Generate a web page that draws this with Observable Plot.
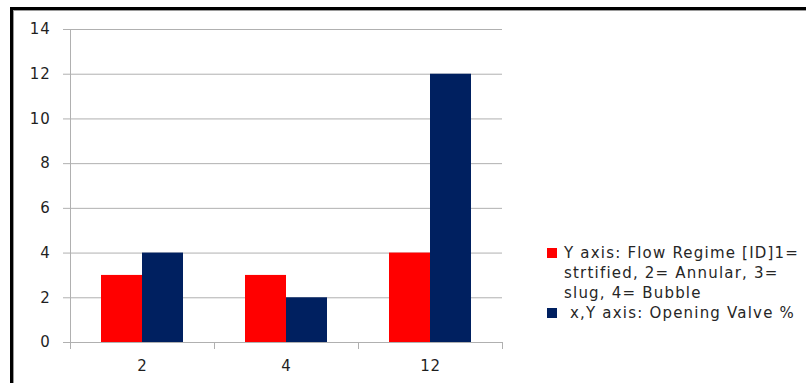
<!DOCTYPE html>
<html>
<head>
<meta charset="utf-8">
<script src="https://cdn.jsdelivr.net/npm/d3@7"></script>
<script src="https://cdn.jsdelivr.net/npm/@observablehq/plot@0.6"></script>
<style>
  body { margin: 0; background: #fff; font-family: "DejaVu Sans", sans-serif; }
  #wrap { position: relative; width: 806px; height: 383px; overflow: hidden; }
  #box {
    position: absolute; left: 10px; top: 7px; width: 900px; height: 500px;
    border-top: 3px solid #000; border-left: 3px solid #000;
    box-shadow: inset 1px 1px 0 #9a9a9a;
  }
  #chart { position: absolute; left: 0; top: 0; }
  #legend { position: absolute; left: 547px; top: 243px; font-size: 15px; letter-spacing: 1.2px; color: #262626; line-height: 20px; }
  .row { position: relative; padding-left: 17px; }
  .sw { position: absolute; left: 0; top: 5px; width: 10px; height: 10px; }
</style>
</head>
<body>
<div id="wrap">
  <div id="box"></div>
  <div id="chart"></div>
  <div id="legend"></div>
</div>
<script>
// Categories along the x axis
const categories = ["2", "4", "12"];
// Series keys, legend text and colours
const seriesKeys = ["flow", "valve"];
const legendLines = [
  ["Y axis: Flow Regime [ID]1=", "strtified, 2= Annular, 3=", "slug, 4= Bubble"],
  [" x,Y axis: Opening Valve %"]
];
const seriesColors = ["#ff0000", "#002060"];
// Values per category
const flowRegime = [3, 3, 4];
const openingValve = [4, 2, 12];
// Y axis ticks
const yTicks = [0, 2, 4, 6, 8, 10, 12, 14];

const rows = categories.flatMap((c, i) => [
  {cat: c, series: seriesKeys[0], value: flowRegime[i]},
  {cat: c, series: seriesKeys[1], value: openingValve[i]}
]);

const axisGray = "#b0b0b0";

const chart = Plot.plot({
  width: 806,
  height: 383,
  marginLeft: 70,
  marginRight: 304,
  marginTop: 29,
  marginBottom: 41,
  style: {fontFamily: "'DejaVu Sans', sans-serif", fontSize: "15px", letterSpacing: "0.8px", color: "#1f1f1f", background: "transparent"},
  fx: {domain: categories, padding: 0, label: null, axis: null},
  x: {domain: seriesKeys, paddingInner: 0, paddingOuter: 0.756, axis: null},
  y: {domain: [0, 14], label: null},
  color: {domain: seriesKeys, range: seriesColors},
  marks: [
    Plot.gridY(yTicks, {stroke: axisGray, strokeOpacity: 1}),
    Plot.axisY(yTicks, {tickSize: 7, tickPadding: 13, stroke: axisGray, fill: "#1f1f1f", label: null}),
    Plot.barY(rows, {fx: "cat", x: "series", y: "value", fill: "series"}),
    Plot.frame({anchor: "left", facet: "super", stroke: axisGray}),
    Plot.frame({anchor: "bottom", stroke: axisGray}),
    Plot.frame({anchor: "left", insetTop: 313, insetBottom: -6, stroke: axisGray}),
    Plot.frame({anchor: "right", insetTop: 313, insetBottom: -6, stroke: axisGray}),
    Plot.axisFx({anchor: "bottom", tickSize: 0, tickPadding: 18, label: null, fill: "#1f1f1f"})
  ]
});
document.getElementById("chart").appendChild(chart);

const legend = document.getElementById("legend");
legendLines.forEach((lines, i) => {
  const row = document.createElement("div");
  row.className = "row";
  const sw = document.createElement("div");
  sw.className = "sw";
  sw.style.background = seriesColors[i];
  row.appendChild(sw);
  lines.forEach(t => {
    const line = document.createElement("div");
    line.textContent = t;
    line.style.whiteSpace = "pre";
    row.appendChild(line);
  });
  legend.appendChild(row);
});
</script>
</body>
</html>
